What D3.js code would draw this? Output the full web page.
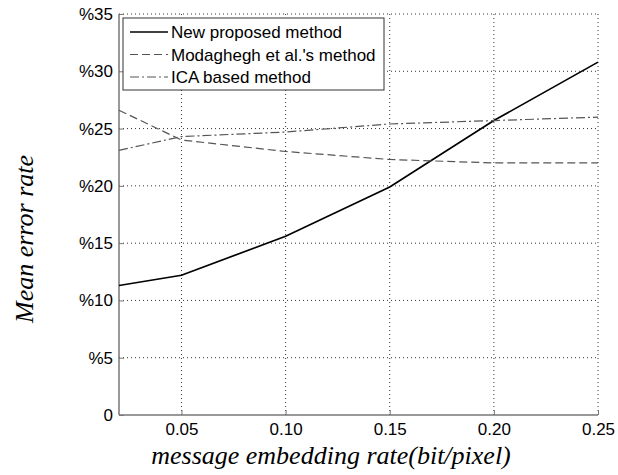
<!DOCTYPE html>
<html>
<head>
<meta charset="utf-8">
<script src="https://cdn.jsdelivr.net/npm/d3@7"></script>
<style>
  body { margin: 0; background: #fff; }
</style>
</head>
<body>
<div class="svg"></div>
<script>
var rates = [0.02, 0.05, 0.10, 0.15, 0.20, 0.25];
var proposed = [11.3, 12.2, 15.6, 19.9, 25.7, 30.8];
var modaghegh = [26.6, 24.0, 23.0, 22.3, 22.0, 22.0];
var ica = [23.1, 24.3, 24.7, 25.4, 25.7, 26.0];
var xTicks = [0.05, 0.10, 0.15, 0.20, 0.25];
var yTicks = [0, 5, 10, 15, 20, 25, 30, 35];
var seriesNames = ["New proposed method", "Modaghegh et al.'s method", "ICA based method"];

var width = 618,
    height = 475;
var sans = "'Liberation Sans', Arial, sans-serif",
    serif = "'Liberation Serif', 'Times New Roman', serif";

var svg = d3.select(".svg").append("svg")
    .attr("width", width)
    .attr("height", height);

var x = d3.scaleLinear().domain([0.02, 0.25]).range([119, 598]);
var y = d3.scaleLinear().domain([0, 35]).range([415, 14]);

var styles = [
    {stroke: "#000", width: 1.7, dash: null},
    {stroke: "#555", width: 1.2, dash: "8,4"},
    {stroke: "#555", width: 1.2, dash: "9,3,2,3"}
];

// dotted grid
svg.append("g").selectAll("line").data(xTicks).enter().append("line")
    .attr("x1", d => x(d)).attr("x2", d => x(d))
    .attr("y1", y(0)).attr("y2", y(35))
    .attr("stroke", "#333").attr("stroke-width", 1)
    .attr("stroke-dasharray", "1,3");
svg.append("g").selectAll("line").data(yTicks.slice(1)).enter().append("line")
    .attr("x1", x(0.02)).attr("x2", x(0.25))
    .attr("y1", d => y(d)).attr("y2", d => y(d))
    .attr("stroke", "#333").attr("stroke-width", 1)
    .attr("stroke-dasharray", "1,3");

// axes (left + bottom solid)
var xAxis = d3.axisBottom(x).tickValues(xTicks).tickSize(-5).tickPadding(8)
    .tickFormat(d3.format(".2f"));
var gx = svg.append("g").attr("transform", "translate(0," + y(0) + ")").call(xAxis);
var yAxis = d3.axisLeft(y).tickValues(yTicks).tickSize(-5).tickPadding(6)
    .tickFormat(d => d === 0 ? "0" : "%" + d);
var gy = svg.append("g").attr("transform", "translate(" + x(0.02) + ",0)").call(yAxis);

[gx, gy].forEach(function (g) {
    g.attr("font-family", sans).attr("font-size", 17);
    g.select(".domain").attr("stroke", "#777").attr("stroke-width", 1.5);
    g.selectAll(".tick line").attr("stroke", "#777");
    g.selectAll(".tick text").attr("fill", "#000");
});
gx.select(".domain").attr("d", "M" + x(0.02) + ",0H" + x(0.25));
gy.select(".domain").attr("d", "M0," + y(0) + "V" + y(35));

// lines
var line = d3.line()
    .x(function (d, i) { return x(rates[i]); })
    .y(function (d) { return y(d); });

[proposed, modaghegh, ica].forEach(function (s, i) {
    svg.append("path")
        .datum(s)
        .attr("d", line)
        .attr("fill", "none")
        .attr("stroke", styles[i].stroke)
        .attr("stroke-width", styles[i].width)
        .attr("stroke-dasharray", styles[i].dash);
});

// legend
var legend = svg.append("g");
legend.append("rect")
    .attr("x", 123).attr("y", 18).attr("width", 261).attr("height", 72)
    .attr("fill", "#fff").attr("stroke", "#333").attr("stroke-width", 1);
seriesNames.forEach(function (name, i) {
    var ly = 32 + i * 22.5;
    legend.append("line")
        .attr("x1", 130).attr("x2", 168).attr("y1", ly).attr("y2", ly)
        .attr("stroke", styles[i].stroke)
        .attr("stroke-width", styles[i].width)
        .attr("stroke-dasharray", styles[i].dash);
    legend.append("text")
        .attr("x", 171).attr("y", ly + 6)
        .attr("font-family", sans)
        .attr("font-size", 17)
        .text(name);
});

// axis titles
svg.append("text")
    .attr("x", 331).attr("y", 464)
    .attr("text-anchor", "middle")
    .attr("font-family", serif)
    .attr("font-style", "italic")
    .attr("font-size", 26)
    .text("message embedding rate(bit/pixel)");
svg.append("text")
    .attr("transform", "translate(33,239) rotate(-90)")
    .attr("text-anchor", "middle")
    .attr("font-family", serif)
    .attr("font-style", "italic")
    .attr("font-size", 26)
    .text("Mean error rate");
</script>
</body>
</html>
